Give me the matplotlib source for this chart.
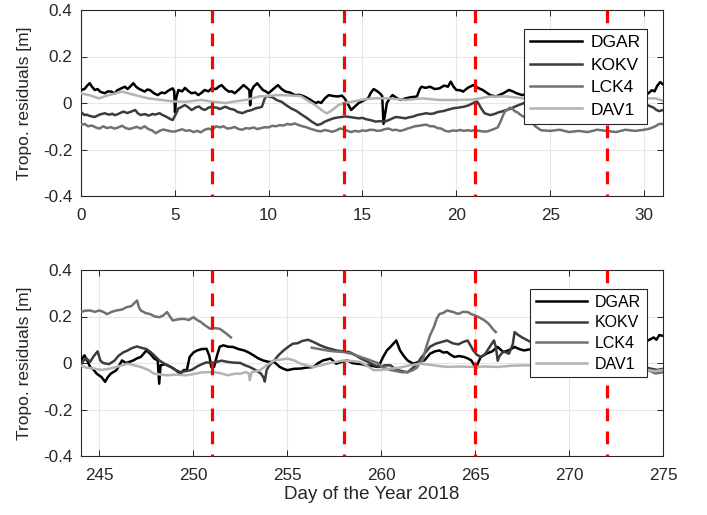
import numpy as np
import matplotlib
matplotlib.use("Agg")
import matplotlib.pyplot as plt

plt.rcParams['font.family'] = ['Liberation Sans', 'DejaVu Sans']

# ---------------- data: top panel (days 0-31) ----------------
top_dgar_day = [0.0, 0.2, 0.35, 0.48, 0.6, 0.75, 0.9, 1.05, 1.28, 1.45, 1.64, 1.8, 1.95, 2.17, 2.35, 2.5, 2.65, 2.8, 2.95, 3.06,
                3.25, 3.41, 3.55, 3.68, 3.9, 4.1, 4.3, 4.48, 4.7, 4.9, 4.98, 5.02, 5.08, 5.2, 5.4, 5.55, 5.75, 5.9, 6.1, 6.26,
                6.45, 6.6, 6.8, 6.97, 7.2, 7.35, 7.5, 7.7, 7.88, 8.05, 8.2, 8.45, 8.67, 8.85, 8.98, 9.02, 9.08, 9.2, 9.4, 9.55,
                9.7, 9.85, 10.0, 10.25, 10.5, 10.7, 10.9, 11.15, 11.4, 11.65, 11.9, 12.1, 12.3, 12.5, 12.65, 12.8, 13.0, 13.2, 13.45, 13.7,
                13.9, 14.05, 14.2, 14.4, 14.6, 14.8, 15.05, 15.3, 15.45, 15.6, 15.8, 15.95, 16.05, 16.12, 16.2, 16.3, 16.45, 16.6, 16.85, 17.05,
                17.3, 17.6, 17.9, 18.05, 18.15, 18.35, 18.6, 18.85, 19.1, 19.35, 19.55, 19.7, 19.85, 20.0, 20.2, 20.36, 20.6, 20.9, 21.15, 21.4,
                21.6, 21.8, 22.1, 22.3, 22.5, 22.8, 23.0, 23.2, 23.5, 23.8, 24.2, 24.7, 25.2, 25.7, 26.3, 26.8, 27.4, 28.0, 28.6, 29.2,
                29.7, 30.0, 30.2, 30.4, 30.55, 30.7, 30.85, 31.0]
top_dgar_val = [0.055, 0.06, 0.075, 0.085, 0.07, 0.056, 0.06, 0.048, 0.042, 0.05, 0.049, 0.04, 0.055, 0.063, 0.07, 0.06, 0.072, 0.085, 0.07, 0.063,
                0.055, 0.049, 0.058, 0.056, 0.042, 0.034, 0.045, 0.042, 0.055, 0.063, 0.05, -0.04, 0.02, 0.056, 0.05, 0.065, 0.05, 0.042, 0.045, 0.034,
                0.045, 0.056, 0.05, 0.063, 0.06, 0.07, 0.077, 0.06, 0.049, 0.05, 0.042, 0.06, 0.077, 0.065, 0.055, -0.01, 0.05, 0.07, 0.085, 0.07,
                0.056, 0.05, 0.042, 0.06, 0.077, 0.06, 0.049, 0.045, 0.034, 0.035, 0.028, 0.02, 0.01, -0.001, 0.005, 0.0, 0.02, 0.034, 0.03, 0.028,
                0.032, 0.02, -0.001, -0.03, -0.015, 0.0, 0.01, 0.02, 0.045, 0.06, 0.05, 0.04, 0.03, -0.09, -0.05, 0.0, 0.02, 0.034, 0.02, 0.013,
                0.02, 0.025, 0.028, 0.06, 0.07, 0.065, 0.07, 0.06, 0.063, 0.075, 0.07, 0.092, 0.07, 0.056, 0.055, 0.049, 0.065, 0.077, 0.065, 0.056,
                0.045, 0.034, 0.028, 0.035, 0.042, 0.056, 0.05, 0.042, 0.034, 0.04, 0.03, 0.04, 0.05, 0.04, 0.05, 0.04, 0.05, 0.04, 0.05, 0.04,
                0.035, 0.04, 0.04, 0.055, 0.05, 0.075, 0.09, 0.08]

top_kokv_day = [0.0, 0.1, 0.2, 0.32, 0.45, 0.6, 0.75, 0.88, 1.0, 1.15, 1.28, 1.42, 1.55, 1.68, 1.8, 1.92, 2.05, 2.18, 2.3, 2.45,
                2.6, 2.75, 2.9, 3.05, 3.2, 3.32, 3.45, 3.58, 3.7, 3.82, 3.95, 4.08, 4.2, 4.32, 4.45, 4.58, 4.7, 4.8, 4.9, 5.05,
                5.2, 5.3, 5.4, 5.55, 5.65, 5.75, 5.9, 6.0, 6.1, 6.2, 6.3, 6.45, 6.6, 6.7, 6.8, 6.9, 7.0, 7.12, 7.25, 7.38,
                7.5, 7.6, 7.7, 7.82, 7.95, 8.08, 8.2, 8.3, 8.4, 8.5, 8.6, 8.72, 8.85, 8.98, 9.1, 9.22, 9.35, 9.5, 9.65, 9.8,
                9.9, 10.05, 10.2, 10.45, 10.7, 10.95, 11.2, 11.5, 11.8, 12.05, 12.3, 12.6, 12.8, 13.0, 13.25, 13.5, 13.7, 13.9, 14.1, 14.3,
                14.55, 14.8, 15.0, 15.2, 15.45, 15.7, 15.95, 16.2, 16.35, 16.5, 16.65, 16.8, 17.05, 17.3, 17.45, 17.6, 17.75, 17.9, 18.15, 18.4,
                18.6, 18.8, 18.95, 19.1, 19.3, 19.5, 19.65, 19.8, 20.1, 20.4, 20.65, 20.9, 21.0, 21.1, 21.2, 21.3, 21.5, 21.65, 21.8, 21.95,
                22.1, 22.25, 22.4, 22.55, 22.7, 22.9, 23.1, 23.35, 23.6, 24.0, 24.5, 25.0, 25.5, 26.0, 26.5, 27.0, 27.5, 28.0, 28.5, 29.0,
                29.5, 30.0, 30.2, 30.35, 30.5, 30.65, 30.8, 31.0]
top_kokv_val = [-0.037, -0.045, -0.052, -0.05, -0.055, -0.058, -0.06, -0.055, -0.05, -0.047, -0.044, -0.048, -0.05, -0.046, -0.052, -0.05, -0.045, -0.04, -0.037, -0.043,
                -0.04, -0.035, -0.03, -0.045, -0.052, -0.049, -0.048, -0.054, -0.052, -0.047, -0.05, -0.047, -0.044, -0.05, -0.055, -0.06, -0.066, -0.07, -0.073, -0.05,
                -0.023, -0.02, -0.015, -0.009, -0.014, -0.02, -0.03, -0.026, -0.02, -0.017, -0.015, -0.025, -0.03, -0.026, -0.02, -0.018, -0.015, -0.019, -0.02, -0.026,
                -0.023, -0.019, -0.016, -0.02, -0.025, -0.027, -0.03, -0.036, -0.04, -0.041, -0.044, -0.04, -0.035, -0.033, -0.03, -0.026, -0.022, -0.02, -0.016, 0.02,
                0.03, 0.027, 0.025, 0.012, 0.005, -0.01, -0.023, -0.035, -0.052, -0.065, -0.08, -0.095, -0.09, -0.08, -0.072, -0.065, -0.062, -0.06, -0.058, -0.06,
                -0.063, -0.066, -0.064, -0.07, -0.074, -0.08, -0.078, -0.08, -0.075, -0.07, -0.064, -0.06, -0.063, -0.066, -0.062, -0.06, -0.057, -0.052, -0.048, -0.044,
                -0.047, -0.045, -0.04, -0.037, -0.035, -0.03, -0.027, -0.023, -0.02, -0.016, -0.01, 0.0, 0.004, 0.006, -0.005, -0.02, -0.044, -0.048, -0.052, -0.049,
                -0.045, -0.04, -0.037, -0.033, -0.03, -0.024, -0.016, -0.008, 0.0, 0.005, 0.0, -0.01, 0.0, -0.01, -0.005, 0.0, -0.01, -0.005, 0.0, -0.01,
                -0.005, -0.01, -0.01, -0.015, -0.02, -0.03, -0.035, -0.03]

top_lck4_day = [0.0, 0.2, 0.4, 0.6, 0.8, 1.0, 1.2, 1.4, 1.6, 1.8, 2.0, 2.2, 2.4, 2.6, 2.8, 3.0, 3.2, 3.4, 3.6, 3.8,
                4.0, 4.2, 4.4, 4.6, 4.8, 5.0, 5.2, 5.4, 5.6, 5.8, 6.0, 6.2, 6.4, 6.6, 6.8, 7.0, 7.2, 7.4, 7.6, 7.8,
                8.0, 8.2, 8.4, 8.6, 8.8, 9.0, 9.2, 9.4, 9.6, 9.8, 10.0, 10.2, 10.4, 10.6, 10.8, 11.0, 11.2, 11.4, 11.6, 11.8,
                12.0, 12.2, 12.4, 12.6, 12.8, 13.0, 13.2, 13.4, 13.6, 13.8, 14.0, 14.2, 14.4, 14.6, 14.8, 15.0, 15.2, 15.4, 15.6, 15.8,
                16.0, 16.2, 16.4, 16.6, 16.8, 17.0, 17.2, 17.4, 17.6, 17.8, 18.0, 18.2, 18.4, 18.6, 18.8, 19.0, 19.2, 19.4, 19.6, 19.8,
                20.0, 20.2, 20.4, 20.6, 20.8, 21.0, 21.2, 21.4, 21.6, 21.8, 22.0, 22.2, 22.35, 22.5, 22.6, 22.7, 22.85, 23.0, 23.1, 23.25,
                23.4, 23.6, 23.9, 24.2, 24.5, 25.0, 25.5, 26.0, 26.5, 27.0, 27.5, 28.0, 28.5, 29.0, 29.5, 30.0, 30.3, 30.6, 30.8, 31.0]
top_lck4_val = [-0.095, -0.09, -0.1, -0.097, -0.105, -0.11, -0.1, -0.108, -0.104, -0.11, -0.105, -0.098, -0.108, -0.112, -0.107, -0.103, -0.11, -0.1, -0.112, -0.118,
                -0.13, -0.12, -0.114, -0.118, -0.122, -0.123, -0.118, -0.113, -0.12, -0.117, -0.125, -0.12, -0.126, -0.115, -0.11, -0.115, -0.1, -0.105, -0.1, -0.11,
                -0.108, -0.103, -0.112, -0.115, -0.108, -0.11, -0.105, -0.112, -0.108, -0.104, -0.105, -0.098, -0.1, -0.095, -0.097, -0.09, -0.093, -0.088, -0.095, -0.1,
                -0.104, -0.11, -0.115, -0.12, -0.122, -0.116, -0.12, -0.124, -0.118, -0.11, -0.112, -0.12, -0.125, -0.12, -0.123, -0.118, -0.12, -0.115, -0.116, -0.12,
                -0.118, -0.112, -0.11, -0.117, -0.115, -0.12, -0.116, -0.11, -0.105, -0.1, -0.098, -0.095, -0.093, -0.1, -0.1, -0.108, -0.11, -0.12, -0.123, -0.118,
                -0.12, -0.116, -0.12, -0.117, -0.12, -0.116, -0.12, -0.122, -0.123, -0.118, -0.112, -0.105, -0.08, -0.05, -0.035, -0.03, -0.02, -0.025, -0.035, -0.04,
                -0.05, -0.06, -0.07, -0.1, -0.117, -0.12, -0.115, -0.125, -0.12, -0.125, -0.115, -0.12, -0.125, -0.115, -0.12, -0.115, -0.11, -0.1, -0.09, -0.09]

top_dav1_day = [0.0, 0.44, 0.97, 1.5, 2.2, 2.9, 3.6, 4.3, 5.0, 5.7, 6.4, 7.0, 7.7, 8.3, 8.8, 9.5, 10.0, 10.4, 11.0, 11.7,
                12.1, 12.5, 12.9, 13.1, 13.4, 13.7, 14.0, 14.5, 14.9, 15.6, 16.4, 17.3, 18.2, 19.1, 20.0, 20.9, 21.8, 22.7, 23.6, 24.5,
                25.5, 26.5, 27.5, 28.5, 29.5, 30.2, 30.6, 31.0]
top_dav1_val = [0.042, 0.034, 0.02, 0.034, 0.049, 0.034, 0.02, 0.013, 0.006, 0.006, 0.013, 0.006, 0.0, 0.008, 0.013, 0.028, 0.03, 0.034, 0.033, 0.03,
                0.01, -0.01, -0.035, -0.045, -0.03, -0.01, 0.0, 0.006, 0.013, 0.02, 0.02, 0.013, 0.02, 0.013, 0.013, 0.015, 0.028, 0.028, 0.02, 0.02,
                0.015, 0.02, 0.015, 0.02, 0.015, 0.02, 0.02, 0.01]

# ---------------- data: bottom panel (days 244-275) ----------------
bot_dgar_day = [244.0, 244.2, 244.35, 244.5, 244.7, 244.85, 245.1, 245.3, 245.45, 245.6, 245.9, 246.05, 246.2, 246.4, 246.6, 246.8, 247.0, 247.2, 247.5, 247.7,
                247.9, 248.1, 248.18, 248.25, 248.5, 248.8, 249.05, 249.3, 249.5, 249.65, 249.8, 250.0, 250.2, 250.45, 250.7, 250.85, 250.95, 251.1, 251.25, 251.4,
                251.6, 251.85, 252.1, 252.4, 252.7, 252.95, 253.2, 253.45, 253.7, 254.0, 254.3, 254.6, 254.8, 255.0, 255.35, 255.7, 256.0, 256.4, 256.65, 256.9,
                257.3, 257.6, 257.9, 258.2, 258.45, 258.7, 258.95, 259.2, 259.5, 259.8, 259.95, 260.1, 260.3, 260.5, 260.8, 261.0, 261.2, 261.4, 261.7, 262.0,
                262.3, 262.6, 262.85, 263.1, 263.3, 263.5, 263.7, 263.9, 264.15, 264.4, 264.6, 264.8, 264.95, 265.05, 265.15, 265.3, 265.6, 265.9, 266.2, 266.5,
                266.8, 267.1, 267.35, 267.6, 268.0, 268.5, 269.0, 269.5, 270.0, 270.5, 271.0, 271.5, 272.0, 272.5, 273.0, 273.5, 274.0, 274.2, 274.4, 274.5,
                274.65, 274.8, 275.0]
bot_dgar_val = [0.011, 0.033, 0.01, -0.017, -0.03, -0.046, -0.06, -0.081, -0.06, -0.046, -0.031, -0.01, 0.011, 0.0, 0.005, 0.011, 0.02, 0.026, 0.054, 0.04,
                0.02, 0.011, -0.089, -0.01, -0.005, -0.017, -0.03, -0.046, -0.03, -0.031, 0.026, 0.045, 0.054, 0.06, 0.061, 0.03, -0.017, -0.017, 0.03, 0.07,
                0.076, 0.07, 0.069, 0.06, 0.054, 0.045, 0.033, 0.02, 0.011, 0.005, 0.004, -0.017, -0.025, -0.031, -0.025, -0.024, -0.02, -0.017, 0.0, 0.011,
                0.019, -0.003, 0.005, 0.011, 0.0, -0.003, -0.005, -0.01, -0.012, -0.017, 0.0, 0.026, 0.054, 0.07, 0.097, 0.054, 0.03, 0.011, -0.003, 0.005,
                0.011, 0.04, 0.05, 0.054, 0.045, 0.047, 0.035, 0.026, 0.03, 0.026, 0.02, 0.011, -0.01, -0.024, 0.0, 0.026, 0.04, 0.05, 0.069, 0.047,
                0.055, 0.069, 0.06, 0.054, 0.06, 0.05, 0.07, 0.06, 0.08, 0.07, 0.09, 0.08, 0.085, 0.09, 0.08, 0.09, 0.09, 0.097, 0.105, 0.11,
                0.1, 0.12, 0.117]

bot_kokv_day = [244.0, 244.15, 244.3, 244.5, 244.7, 244.9, 245.05, 245.2, 245.5, 245.8, 246.0, 246.25, 246.5, 246.75, 247.0, 247.25, 247.5, 247.75, 248.0, 248.2,
                248.4, 248.6, 248.8, 249.05, 249.3, 249.6, 249.9, 250.2, 250.45, 250.7, 250.95, 251.2, 251.5, 251.8, 252.1, 252.5, 252.75, 253.0, 253.3, 253.6,
                253.75, 253.8, 253.9, 254.05, 254.3, 254.55, 254.8, 255.05, 255.3, 255.55, 255.8, 256.1, 256.4, 256.75, 257.1, 257.35, 257.6, 258.0, 258.3, 258.6,
                258.9, 259.15, 259.4, 259.65, 259.9, 260.2, 260.5, 260.8, 261.1, 261.4, 261.7, 261.95, 262.1, 262.3, 262.6, 262.9, 263.2, 263.5, 263.8, 264.1,
                264.35, 264.6, 264.9, 265.1, 265.3, 265.5, 265.7, 266.0, 266.1, 266.2, 266.3, 266.5, 266.8, 267.0, 267.1, 267.3, 267.5, 267.8, 268.2, 268.7,
                269.2, 269.7, 270.2, 270.7, 271.2, 271.7, 271.9, 272.1, 272.6, 273.1, 273.6, 274.1, 274.4, 274.7, 275.0]
bot_kokv_val = [-0.01, 0.01, 0.02, 0.005, 0.03, 0.05, 0.01, 0.0, -0.005, 0.01, 0.03, 0.045, 0.054, 0.065, 0.071, 0.065, 0.06, 0.045, 0.026, 0.01,
                0.0, -0.01, -0.017, -0.03, -0.039, -0.035, -0.03, -0.015, -0.005, 0.003, 0.0, 0.004, 0.01, 0.005, 0.002, 0.0, -0.01, -0.017, -0.03, -0.046,
                -0.065, -0.08, -0.03, -0.01, 0.011, 0.035, 0.054, 0.07, 0.083, 0.085, 0.095, 0.1, 0.09, 0.076, 0.065, 0.06, 0.054, 0.05, 0.047, 0.035,
                0.02, 0.01, 0.0, -0.01, -0.017, -0.01, -0.01, -0.03, -0.035, -0.04, -0.02, 0.0, 0.02, 0.04, 0.07, 0.083, 0.09, 0.097, 0.085, 0.08,
                0.09, 0.097, 0.054, 0.035, 0.026, 0.035, 0.06, 0.097, 0.07, 0.01, 0.03, 0.05, 0.04, 0.08, 0.133, 0.12, 0.11, 0.097, 0.08, 0.06,
                0.05, 0.04, 0.03, 0.01, 0.0, -0.01, -0.06, -0.02, -0.01, -0.02, -0.01, -0.02, -0.025, -0.03, -0.025]

bot_lck4_day = [244.0, 244.25, 244.5, 244.75, 245.0, 245.2, 245.4, 245.65, 245.9, 246.2, 246.45, 246.7, 247.0, 247.1, 247.2, 247.45, 247.7, 247.95, 248.2, 248.4,
                248.6, 248.75, 248.9, 249.2, 249.5, 249.75, 250.0, 250.2, 250.4, 250.65, 250.9, 251.15, 251.4, 251.7, 252.0, 252.1,
                256.3, 256.7, 257.1, 257.5, 258.0, 258.4, 258.9, 259.3, 259.8, 260.1, 260.5, 260.8, 261.1, 261.4, 261.7, 261.9, 262.05, 262.2, 262.4, 262.6,
                262.8, 262.95, 263.1, 263.3, 263.5, 263.8, 264.1, 264.35, 264.6, 264.8, 265.0, 265.25, 265.5, 265.7, 265.8, 265.95, 266.1, 266.2,
                268.0, 269.0, 270.0, 271.0, 272.0, 273.0, 274.2, 274.6, 275.0]
bot_lck4_val = [0.219, 0.225, 0.226, 0.22, 0.226, 0.22, 0.21, 0.22, 0.226, 0.23, 0.24, 0.245, 0.269, 0.24, 0.226, 0.215, 0.21, 0.2, 0.197, 0.205,
                0.219, 0.2, 0.183, 0.188, 0.19, 0.185, 0.197, 0.185, 0.176, 0.16, 0.147, 0.15, 0.147, 0.13, 0.11, np.nan,
                0.066, 0.06, 0.054, 0.05, 0.047, 0.04, 0.026, 0.015, 0.0, -0.02, -0.03, -0.035, -0.04, -0.039, -0.03, -0.02, 0.0, 0.011, 0.07, 0.12,
                0.154, 0.19, 0.211, 0.215, 0.226, 0.22, 0.211, 0.22, 0.219, 0.21, 0.204, 0.195, 0.183, 0.17, 0.161, 0.145, 0.133, np.nan,
                -0.02, -0.03, -0.02, -0.03, -0.03, -0.035, -0.03, -0.045, -0.04]

bot_dav1_day = [244.0, 244.3, 244.7, 245.1, 245.5, 245.9, 246.5, 247.2, 247.6, 247.9, 248.3, 248.6, 249.1, 249.6, 250.1, 250.5, 251.1, 251.5, 251.8, 252.2,
                252.5, 252.8, 252.95, 253.0, 253.1, 253.55, 253.9, 254.3, 254.7, 255.0, 255.4, 255.7, 256.0, 256.4, 256.8, 257.1, 257.6, 258.0, 258.5, 258.9,
                259.2, 259.6, 260.0, 260.5, 261.0, 261.5, 262.1, 262.8, 263.5, 264.2, 264.9, 265.5, 266.2, 266.9, 267.6, 268.3, 269.0, 270.0, 271.0, 272.0,
                273.0, 274.2, 274.6, 275.0]
bot_dav1_val = [-0.01, -0.02, -0.024, -0.03, -0.025, -0.017, -0.003, -0.017, -0.03, -0.046, -0.05, -0.053, -0.05, -0.053, -0.046, -0.04, -0.039, -0.045, -0.053, -0.046,
                -0.046, -0.039, -0.045, -0.074, -0.04, -0.031, -0.01, 0.011, 0.015, 0.019, 0.01, -0.003, -0.01, -0.017, -0.01, -0.003, 0.005, 0.011, 0.008, 0.004,
                -0.01, -0.031, -0.03, -0.024, -0.02, -0.01, -0.003, -0.01, -0.017, -0.015, -0.017, -0.015, -0.017, -0.012, -0.01, -0.01, -0.015, -0.01, -0.015, -0.02,
                -0.025, -0.03, -0.035, -0.03]

station_names = ["DGAR", "KOKV", "LCK4", "DAV1"]
top_week_days = [7, 14, 21, 28]
bot_week_days = [251, 258, 265, 272]
top_xticks = [0, 5, 10, 15, 20, 25, 30]
bot_xticks = [245, 250, 255, 260, 265, 270, 275]
yticks = [-0.4, -0.2, 0.0, 0.2, 0.4]
ytick_labels = ["-0.4", "-0.2", "0", "0.2", "0.4"]

# ---------------- styling ----------------
colors = ["#000000", "#3c3c3c", "#717171", "#b3b3b3"]
txt = "#262626"
lw = 1.8

fig = plt.figure(figsize=(7.07, 5.15), dpi=100)
ax1 = fig.add_axes([80.7 / 707, 1 - 196 / 515, (663 - 80.7) / 707, 186 / 515])
ax2 = fig.add_axes([80.7 / 707, 1 - 456 / 515, (663 - 80.7) / 707, 186 / 515])

panels = [
    (ax1, [(top_dgar_day, top_dgar_val), (top_kokv_day, top_kokv_val), (top_lck4_day, top_lck4_val), (top_dav1_day, top_dav1_val)],
     top_week_days, (0, 31), top_xticks, 12.5, 0.42, 3.0),
    (ax2, [(bot_dgar_day, bot_dgar_val), (bot_kokv_day, bot_kokv_val), (bot_lck4_day, bot_lck4_val), (bot_dav1_day, bot_dav1_val)],
     bot_week_days, (244, 275), bot_xticks, 11.5, 0.36, 3.2),
]

for ax, series, weeks, xlim, xt, lfs, lsp, hl in panels:
    handles = []
    for (d, v), c, name in zip(series, colors, station_names):
        h, = ax.plot(d, v, color=c, lw=lw, label=name, solid_joinstyle='round', zorder=3)
        handles.append(h)
    for wd in weeks:
        ax.plot([wd, wd], [0.4, -0.4], color="#ff0000", lw=2.3, dashes=(4.0, 3.2), zorder=4, clip_on=False)
    ax.set_xlim(*xlim)
    ax.set_ylim(-0.4, 0.4)
    ax.set_xticks(xt)
    ax.set_xticklabels([str(t) for t in xt])
    ax.set_yticks(yticks)
    ax.set_yticklabels(ytick_labels)
    ax.grid(True, color="#e6e6e6", lw=0.8, zorder=0)
    ax.set_axisbelow(True)
    ax.tick_params(direction='in', length=4, width=0.7, colors=txt, labelsize=12.3,
                   top=True, right=True, labelcolor=txt)
    ax.tick_params(axis='y', pad=6)
    ax.tick_params(axis='x', pad=9)
    for s in ax.spines.values():
        s.set_color(txt)
        s.set_linewidth(0.8)
    ax.set_ylabel("Tropo. residuals [m]", fontsize=12.5, color=txt, labelpad=8)
    leg = ax.legend(handles=handles, loc='upper right', bbox_to_anchor=(0.972, 0.898), borderaxespad=0,
                    fancybox=False, framealpha=1, edgecolor=txt, fontsize=lfs, handlelength=hl,
                    handletextpad=0.5, labelspacing=lsp, borderpad=0.35)
    leg.get_frame().set_linewidth(0.8)
    for t in leg.get_texts():
        t.set_color("#000000")
    leg.set_zorder(10)

ax2.set_xlabel("Day of the Year 2018", fontsize=13.5, color=txt, labelpad=2)

fig.savefig("out.png", dpi=100)
